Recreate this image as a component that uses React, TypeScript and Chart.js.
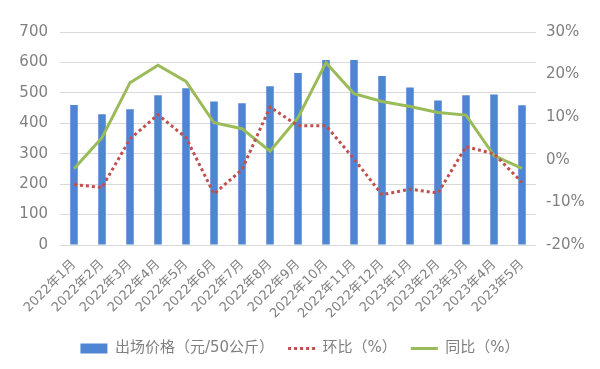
import React, { useEffect, useRef } from "react";
import { Chart, registerables } from "chart.js";

Chart.register(...registerables);

const categories = [
  "2022年1月", "2022年2月", "2022年3月", "2022年4月", "2022年5月", "2022年6月",
  "2022年7月", "2022年8月", "2022年9月", "2022年10月", "2022年11月", "2022年12月",
  "2023年1月", "2023年2月", "2023年3月", "2023年4月", "2023年5月",
];
const priceValues = [460, 430, 446, 492, 515, 472, 466, 522, 565, 608, 608, 555, 518, 475, 492, 495, 459];
const momValues = [-5.8, -6.5, 4.9, 10.6, 5.2, -8.0, -2.3, 12.4, 8.0, 8.0, 0.2, -8.2, -6.9, -7.8, 3.1, 1.4, -5.3];
const yoyValues = [-2.1, 5.2, 18.1, 22.2, 18.4, 8.7, 7.3, 2.0, 9.9, 22.8, 15.5, 13.7, 12.5, 11.1, 10.5, 1.0, -2.0];
const seriesNames = ["出场价格（元/50公斤）", "环比（%）", "同比（%）"];

const FONT = '"DejaVu Sans", "Noto Sans CJK SC", sans-serif';
const GRAY = "#808080";
const BAR = "#4F86D4";
const RED = "#C0504D";
const GREEN = "#9BBB59";

export default function App() {
  const ref = useRef<HTMLCanvasElement | null>(null);
  useEffect(() => {
    if (!ref.current) return;
    const chart = new Chart(ref.current, {
      data: {
        labels: categories,
        datasets: [
          {
            type: "bar",
            label: seriesNames[0],
            data: priceValues,
            backgroundColor: BAR,
            borderWidth: 0,
            barPercentage: 0.27,
            categoryPercentage: 1,
            yAxisID: "y",
            order: 2,
          },
          {
            type: "line",
            label: seriesNames[1],
            data: momValues,
            borderColor: RED,
            backgroundColor: RED,
            borderWidth: 3,
            borderDash: [3, 3],
            pointRadius: 0,
            tension: 0,
            yAxisID: "y1",
            order: 0,
          },
          {
            type: "line",
            label: seriesNames[2],
            data: yoyValues,
            borderColor: GREEN,
            backgroundColor: GREEN,
            borderWidth: 3,
            pointRadius: 0,
            tension: 0,
            yAxisID: "y1",
            order: 1,
          },
        ],
      } as any,
      options: {
        responsive: false,
        animation: false,
        layout: { padding: { top: 32, left: 0, right: 0, bottom: 3 } },
        plugins: {
          tooltip: { enabled: false },
          legend: {
            position: "bottom",
            labels: {
              usePointStyle: true,
              pointStyleWidth: 27,
              boxHeight: 10,
              padding: 14,
              color: GRAY,
              font: { family: FONT, size: 15 },
              sort: (a: any, b: any) => a.datasetIndex - b.datasetIndex,
              generateLabels: (c: any) => {
                const items = Chart.defaults.plugins.legend.labels.generateLabels(c);
                return items.map((it: any) => {
                  const i = it.datasetIndex;
                  if (i === 0) {
                    return { ...it, pointStyle: "rect", fillStyle: BAR, strokeStyle: BAR, lineWidth: 0, lineDash: [] };
                  }
                  return {
                    ...it,
                    pointStyle: "line",
                    strokeStyle: i === 1 ? RED : GREEN,
                    fillStyle: i === 1 ? RED : GREEN,
                    lineWidth: 3,
                    lineDash: i === 1 ? [3, 3] : [],
                  };
                });
              },
            },
          },
        },
        scales: {
          x: {
            grid: { display: false },
            border: { display: false },
            ticks: {
              color: GRAY,
              font: { family: FONT, size: 13 },
              minRotation: 45,
              maxRotation: 45,
              autoSkip: false,
              padding: 4,
            },
            afterFit: (s: any) => { s.height = 82; },
          },
          y: {
            position: "left",
            min: 0,
            max: 700,
            grid: { color: "#D9D9D9", lineWidth: 1, drawTicks: false },
            border: { display: false },
            ticks: {
              stepSize: 100,
              color: GRAY,
              font: { family: FONT, size: 15 },
              padding: 12,
            },
            afterFit: (s: any) => { s.width = 60; },
          },
          y1: {
            position: "right",
            min: -20,
            max: 30,
            grid: { display: false, drawTicks: false },
            border: { display: false },
            ticks: {
              stepSize: 10,
              color: GRAY,
              font: { family: FONT, size: 15 },
              padding: 10,
              callback: (v: any) => v + "%",
            },
            afterFit: (s: any) => { s.width = 64; },
          },
        },
      } as any,
    });
    return () => chart.destroy();
  }, []);
  return (
    <div style={{ position: "fixed", left: 0, top: 0, width: 600, height: 369, background: "#fff" }}>
      <canvas ref={ref} width={600} height={369} style={{ width: 600, height: 369, display: "block" }} />
    </div>
  );
}
